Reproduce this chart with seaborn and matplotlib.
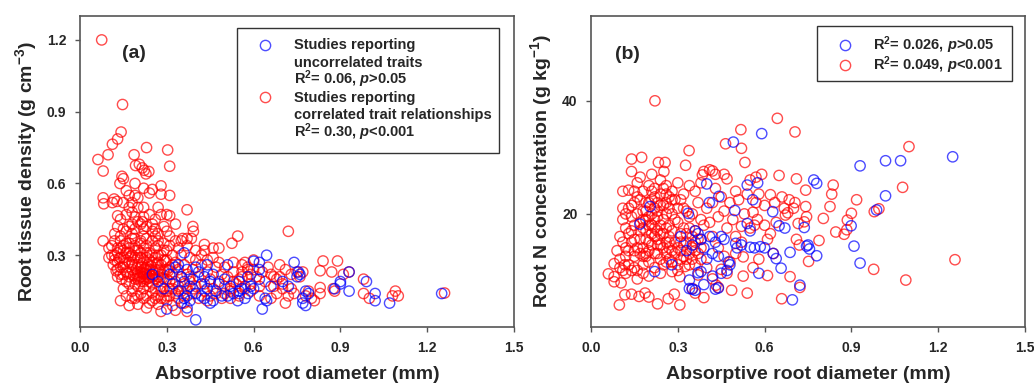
import matplotlib
matplotlib.use("Agg")
import matplotlib.pyplot as plt
from matplotlib.patches import Rectangle
import seaborn as sns
import pandas as pd

# (absorptive root diameter mm, root tissue density g cm-3)
rtd_uncorrelated = [
    (0.40, 0.03), (0.30, 0.075), (0.37, 0.08), (0.45, 0.10), (0.545, 0.11), (0.63, 0.075),
    (0.645, 0.30), (0.74, 0.27), (0.60, 0.275), (0.51, 0.26), (0.36, 0.31), (0.99, 0.19),
    (1.02, 0.14), (1.02, 0.11), (1.07, 0.10), (1.25, 0.14), (0.93, 0.15), (0.93, 0.23),
    (0.90, 0.19), (0.90, 0.18), (0.88, 0.16), (0.77, 0.10), (0.78, 0.09), (0.77, 0.12),
    (0.75, 0.21), (0.76, 0.22), (0.755, 0.23), (0.79, 0.14), (0.78, 0.15), (0.64, 0.12),
    (0.645, 0.11), (0.56, 0.16), (0.58, 0.14), (0.59, 0.17), (0.62, 0.27), (0.62, 0.24),
    (0.31, 0.22), (0.32, 0.18), (0.33, 0.25), (0.34, 0.15), (0.35, 0.21), (0.36, 0.12),
    (0.37, 0.24), (0.38, 0.17), (0.39, 0.20), (0.40, 0.14), (0.41, 0.23), (0.42, 0.18),
    (0.43, 0.21), (0.44, 0.16), (0.45, 0.19), (0.46, 0.22), (0.47, 0.15), (0.48, 0.18),
    (0.49, 0.13), (0.50, 0.20), (0.52, 0.17), (0.53, 0.14), (0.55, 0.19), (0.57, 0.12),
    (0.58, 0.21), (0.60, 0.16), (0.34, 0.26), (0.36, 0.19), (0.38, 0.11), (0.40, 0.25),
    (0.42, 0.13), (0.44, 0.26), (0.27, 0.19), (0.25, 0.22), (0.29, 0.16), (0.35, 0.10),
    (0.37, 0.13), (0.43, 0.12), (0.46, 0.11), (0.51, 0.13), (0.55, 0.15), (0.62, 0.20),
    (0.66, 0.17), (0.70, 0.19), (0.72, 0.17),
]

rtd_correlated = [
    (0.075, 1.20), (0.147, 0.93), (0.142, 0.815), (0.13, 0.786), (0.112, 0.764), (0.062, 0.70),
    (0.097, 0.72), (0.080, 0.652), (0.187, 0.72), (0.230, 0.75), (0.303, 0.74), (0.310, 0.672),
    (0.192, 0.675), (0.205, 0.68), (0.215, 0.665), (0.228, 0.64), (0.222, 0.655), (0.238, 0.65),
    (0.280, 0.59), (0.250, 0.575), (0.220, 0.58), (0.190, 0.60), (0.150, 0.62), (0.145, 0.63),
    (0.138, 0.60), (0.080, 0.54), (0.082, 0.515), (0.118, 0.535), (0.128, 0.525), (0.112, 0.52),
    (0.310, 0.55), (0.280, 0.555), (0.370, 0.49), (0.300, 0.47), (0.310, 0.465), (0.270, 0.50),
    (0.180, 0.52), (0.220, 0.50), (0.130, 0.465), (0.330, 0.43), (0.390, 0.42), (0.392, 0.40),
    (0.290, 0.42), (0.260, 0.41), (0.220, 0.41), (0.215, 0.44), (0.130, 0.42), (0.080, 0.36),
    (0.100, 0.33), (0.310, 0.38), (0.720, 0.40), (0.545, 0.38), (0.525, 0.35), (0.460, 0.33),
    (0.480, 0.33), (0.370, 0.37), (0.355, 0.37), (0.385, 0.37), (0.370, 0.34), (0.430, 0.345),
    (0.430, 0.32), (0.16, 0.57), (0.17, 0.55), (0.20, 0.54), (0.24, 0.56), (0.17, 0.50),
    (0.16, 0.47), (0.19, 0.46), (0.20, 0.44), (0.18, 0.43), (0.24, 0.47), (0.26, 0.45),
    (0.28, 0.47), (0.25, 0.43), (0.14, 0.38), (0.16, 0.40), (0.18, 0.39), (0.12, 0.39),
    (0.27, 0.39), (0.30, 0.40), (0.33, 0.36), (0.35, 0.36), (0.34, 0.33), (0.27, 0.36),
    (0.23, 0.37), (0.21, 0.36), (0.19, 0.37), (0.17, 0.35), (0.15, 0.34), (0.13, 0.33),
    (0.11, 0.30), (0.12, 0.28), (0.10, 0.29),
    (0.12, 0.30), (0.13, 0.27), (0.14, 0.25), (0.15, 0.29), (0.16, 0.31), (0.17, 0.27),
    (0.18, 0.24), (0.19, 0.29), (0.20, 0.26), (0.21, 0.23), (0.22, 0.28), (0.23, 0.25),
    (0.24, 0.22), (0.25, 0.27), (0.26, 0.24), (0.27, 0.21), (0.28, 0.26), (0.29, 0.23),
    (0.30, 0.20), (0.31, 0.25), (0.32, 0.22), (0.33, 0.19), (0.34, 0.24), (0.35, 0.21),
    (0.13, 0.21), (0.14, 0.33), (0.15, 0.22), (0.16, 0.19), (0.17, 0.33), (0.18, 0.30),
    (0.19, 0.20), (0.20, 0.32), (0.21, 0.29), (0.22, 0.19), (0.23, 0.31), (0.24, 0.28),
    (0.25, 0.18), (0.26, 0.33), (0.27, 0.30), (0.28, 0.17), (0.29, 0.32), (0.30, 0.28),
    (0.31, 0.16), (0.32, 0.30), (0.33, 0.27),
    (0.115, 0.26), (0.125, 0.235), (0.135, 0.285), (0.145, 0.20), (0.155, 0.265), (0.165, 0.225),
    (0.175, 0.295), (0.185, 0.215), (0.195, 0.245), (0.205, 0.205), (0.215, 0.265), (0.225, 0.225),
    (0.235, 0.205), (0.245, 0.255), (0.255, 0.215), (0.265, 0.265), (0.275, 0.235), (0.285, 0.205),
    (0.295, 0.275), (0.305, 0.235),
    (0.14, 0.36), (0.16, 0.35), (0.19, 0.34), (0.21, 0.35), (0.23, 0.34), (0.25, 0.36),
    (0.27, 0.34), (0.29, 0.35), (0.31, 0.34), (0.18, 0.37), (0.22, 0.38), (0.26, 0.38),
    (0.15, 0.16), (0.17, 0.18), (0.18, 0.15), (0.20, 0.17), (0.21, 0.14), (0.22, 0.16),
    (0.23, 0.13), (0.24, 0.17), (0.25, 0.145), (0.26, 0.16), (0.27, 0.13), (0.28, 0.15),
    (0.29, 0.12), (0.30, 0.15), (0.31, 0.13), (0.32, 0.16), (0.33, 0.14), (0.34, 0.12),
    (0.35, 0.15), (0.36, 0.13), (0.19, 0.12), (0.24, 0.10), (0.26, 0.12),
    (0.20, 0.23), (0.21, 0.21), (0.22, 0.24), (0.23, 0.22), (0.24, 0.24), (0.22, 0.21),
    (0.21, 0.25), (0.23, 0.235), (0.20, 0.215), (0.24, 0.205), (0.225, 0.245), (0.215, 0.225),
    (0.235, 0.26), (0.19, 0.225), (0.25, 0.235),
    (0.11, 0.34), (0.12, 0.36), (0.13, 0.31), (0.14, 0.29), (0.15, 0.32), (0.16, 0.28),
    (0.17, 0.31), (0.18, 0.27), (0.19, 0.32), (0.20, 0.29), (0.21, 0.31), (0.22, 0.33),
    (0.23, 0.29), (0.24, 0.31), (0.25, 0.30), (0.26, 0.29), (0.27, 0.27), (0.28, 0.30),
    (0.29, 0.28), (0.30, 0.32),
    (0.13, 0.24), (0.14, 0.22), (0.15, 0.25), (0.16, 0.23), (0.17, 0.21), (0.18, 0.26),
    (0.19, 0.18), (0.20, 0.20), (0.21, 0.19), (0.22, 0.22), (0.23, 0.20), (0.24, 0.19),
    (0.25, 0.21), (0.26, 0.20), (0.27, 0.24), (0.28, 0.22), (0.29, 0.20), (0.30, 0.24),
    (0.31, 0.19), (0.32, 0.26),
    (0.15, 0.41), (0.17, 0.42), (0.19, 0.41), (0.21, 0.43), (0.23, 0.42), (0.25, 0.40),
    (0.14, 0.45), (0.18, 0.48), (0.22, 0.46), (0.20, 0.50), (0.15, 0.52), (0.19, 0.55),
    (0.16, 0.13), (0.18, 0.12), (0.20, 0.13), (0.22, 0.12), (0.28, 0.12), (0.30, 0.13),
    (0.34, 0.17), (0.36, 0.18), (0.38, 0.21), (0.39, 0.16),
    (0.14, 0.11), (0.17, 0.09), (0.20, 0.095), (0.23, 0.08), (0.25, 0.11), (0.27, 0.095),
    (0.28, 0.065), (0.30, 0.11), (0.32, 0.09), (0.33, 0.07), (0.37, 0.065), (0.36, 0.10),
    (0.36, 0.26), (0.37, 0.22), (0.38, 0.19), (0.39, 0.24), (0.40, 0.17), (0.41, 0.21),
    (0.42, 0.26), (0.43, 0.18), (0.44, 0.23), (0.45, 0.20), (0.46, 0.16), (0.47, 0.25),
    (0.48, 0.19), (0.49, 0.22), (0.50, 0.17), (0.51, 0.21), (0.52, 0.15), (0.53, 0.23),
    (0.54, 0.18), (0.55, 0.14), (0.56, 0.21), (0.57, 0.17), (0.58, 0.24), (0.59, 0.15),
    (0.38, 0.29), (0.40, 0.28), (0.42, 0.30), (0.44, 0.28), (0.46, 0.29), (0.48, 0.27),
    (0.39, 0.14), (0.41, 0.12), (0.43, 0.15), (0.45, 0.13), (0.47, 0.14), (0.49, 0.12),
    (0.37, 0.16), (0.44, 0.11), (0.52, 0.12), (0.40, 0.32), (0.35, 0.30), (0.50, 0.25),
    (0.53, 0.27), (0.56, 0.26),
    (0.84, 0.276), (0.89, 0.276), (0.87, 0.23), (0.93, 0.23), (0.91, 0.22), (0.98, 0.20),
    (0.83, 0.235), (0.83, 0.165), (0.88, 0.15), (0.875, 0.16), (0.83, 0.14), (0.81, 0.11),
    (0.98, 0.14), (1.00, 0.12), (1.09, 0.15), (1.10, 0.13), (1.08, 0.13), (1.26, 0.142),
    (0.71, 0.10), (0.72, 0.13), (0.74, 0.14), (0.73, 0.16), (0.69, 0.21), (0.71, 0.24),
    (0.73, 0.22), (0.75, 0.23), (0.77, 0.23), (0.76, 0.21), (0.62, 0.17), (0.64, 0.19),
    (0.67, 0.17), (0.62, 0.13), (0.79, 0.15), (0.80, 0.12), (0.78, 0.13), (0.70, 0.18),
    (0.68, 0.20), (0.66, 0.22), (0.65, 0.25), (0.69, 0.26), (0.57, 0.27), (0.58, 0.25),
    (0.60, 0.24), (0.56, 0.23), (0.55, 0.20), (0.53, 0.19), (0.52, 0.16), (0.50, 0.14),
    (0.55, 0.13), (0.57, 0.16), (0.59, 0.18), (0.61, 0.21), (0.63, 0.23), (0.59, 0.22),
    (0.60, 0.28), (0.67, 0.21), (0.70, 0.16), (0.68, 0.14), (0.66, 0.12),
]

# (absorptive root diameter mm, root N concentration g kg-1)
n_uncorrelated = [
    (0.492, 32.7), (0.59, 34.2), (0.77, 26.0), (0.78, 25.4), (0.93, 28.5), (1.018, 29.4),
    (1.07, 29.4), (1.25, 30.1), (1.018, 23.2), (0.987, 20.7), (0.899, 17.9), (0.909, 14.3),
    (0.93, 11.3), (0.78, 12.6), (0.75, 14.5), (0.755, 13.8), (0.745, 14.3), (0.737, 17.6),
    (0.688, 13.2), (0.67, 17.5), (0.65, 17.9), (0.628, 20.4), (0.63, 13.0), (0.64, 12.1),
    (0.657, 10.4), (0.722, 7.4), (0.696, 4.8), (0.58, 9.5), (0.60, 14.0), (0.585, 14.2),
    (0.565, 14.0), (0.55, 14.1), (0.55, 17.0), (0.54, 18.3), (0.559, 22.5), (0.54, 25.1),
    (0.576, 25.5), (0.497, 20.6), (0.50, 14.8), (0.52, 14.5), (0.505, 14.0), (0.45, 9.5),
    (0.47, 10.0), (0.475, 11.5), (0.442, 23.1), (0.43, 6.7), (0.44, 6.9), (0.40, 25.3),
    (0.409, 22.0), (0.38, 9.8), (0.37, 9.6), (0.35, 6.7), (0.36, 6.5), (0.34, 6.8),
    (0.34, 8.3), (0.22, 9.8), (0.279, 11.0), (0.169, 18.2), (0.204, 21.3), (0.336, 20.1),
    (0.36, 17.0), (0.37, 16.5), (0.38, 15.5), (0.35, 14.5), (0.39, 14.0), (0.41, 16.0),
    (0.42, 13.0), (0.44, 12.5), (0.46, 15.5), (0.48, 11.0), (0.39, 7.5), (0.43, 15.0),
    (0.45, 16.0), (0.31, 16.0), (0.33, 13.5), (0.40, 12.0), (0.42, 9.0),
]

n_correlated = [
    (0.221, 40.0), (0.644, 36.9), (0.705, 34.5), (0.518, 34.9), (0.52, 31.6), (0.465, 32.4),
    (0.532, 29.1), (1.099, 31.9), (1.077, 24.7), (1.258, 11.9), (1.088, 8.3), (0.977, 10.2),
    (0.995, 20.9), (0.979, 20.4), (0.918, 22.5), (0.90, 20.1), (0.886, 18.9), (0.884, 17.2),
    (0.875, 16.4), (0.846, 16.8), (0.837, 25.1), (0.832, 23.5), (0.826, 21.3), (0.803, 19.2),
    (0.788, 15.3), (0.752, 11.6), (0.742, 24.2), (0.742, 21.3), (0.745, 19.5), (0.737, 18.6),
    (0.716, 18.3), (0.71, 26.2), (0.705, 22.0), (0.70, 21.0), (0.71, 15.5), (0.72, 14.5),
    (0.722, 7.0), (0.688, 8.9), (0.659, 5.0), (0.61, 9.1), (0.65, 26.8), (0.62, 23.4),
    (0.635, 22.0), (0.66, 23.0), (0.668, 21.0), (0.685, 22.5), (0.672, 19.8), (0.68, 20.2),
    (0.54, 6.0), (0.526, 9.0), (0.526, 12.4), (0.486, 6.5), (0.44, 7.0), (0.432, 7.4),
    (0.39, 5.2), (0.307, 3.9), (0.267, 5.0), (0.23, 4.1), (0.20, 5.3), (0.187, 6.0),
    (0.166, 5.4), (0.14, 5.8), (0.117, 5.7), (0.098, 3.9), (0.06, 9.4), (0.08, 11.2),
    (0.08, 8.9), (0.08, 8.0), (0.104, 7.8), (0.117, 11.0), (0.288, 5.8), (0.307, 8.9),
    (0.325, 10.7), (0.36, 6.0), (0.35, 6.8), (0.14, 29.7), (0.175, 30.0), (0.14, 27.5),
    (0.233, 29.1), (0.256, 29.1), (0.252, 27.5), (0.339, 31.2), (0.327, 28.6), (0.39, 27.5),
    (0.41, 27.8), (0.42, 27.6), (0.43, 27.0), (0.385, 26.9), (0.46, 27.0), (0.47, 26.2),
    (0.11, 24.0), (0.13, 24.2), (0.15, 24.0),
    (0.55, 26.0), (0.57, 26.5), (0.59, 27.0), (0.58, 23.5), (0.57, 22.0), (0.56, 20.3),
    (0.575, 19.0), (0.565, 18.0), (0.55, 17.5), (0.60, 18.0), (0.62, 16.5), (0.61, 15.5),
    (0.63, 13.0), (0.50, 24.0), (0.51, 22.5), (0.48, 22.0), (0.49, 19.0), (0.47, 17.5),
    (0.46, 20.5), (0.44, 19.5), (0.45, 23.0), (0.43, 24.5), (0.42, 22.0), (0.40, 21.0),
    (0.41, 18.5), (0.42, 16.0), (0.44, 14.0), (0.46, 12.5), (0.48, 11.5), (0.50, 13.0),
    (0.52, 15.0), (0.53, 20.0), (0.54, 23.5), (0.60, 21.5), (0.64, 18.5), (0.58, 12.0),
    (0.56, 10.5), (0.47, 9.5), (0.45, 10.2), (0.40, 10.5), (0.38, 12.0), (0.37, 9.2),
    (0.36, 11.0), (0.42, 8.5), (0.50, 16.0), (0.52, 17.8),
    (0.10, 16.0), (0.11, 19.0), (0.12, 14.0), (0.13, 21.0), (0.14, 17.0), (0.15, 12.5),
    (0.16, 23.0), (0.17, 15.5), (0.18, 20.5), (0.19, 13.0), (0.20, 18.0), (0.21, 22.5),
    (0.22, 16.0), (0.23, 19.5), (0.24, 14.5), (0.25, 21.5), (0.26, 17.5), (0.27, 12.0),
    (0.28, 20.0), (0.29, 15.0), (0.30, 18.5), (0.31, 13.5), (0.32, 21.0), (0.33, 16.5),
    (0.34, 19.5), (0.35, 14.0), (0.36, 17.0), (0.37, 22.0), (0.38, 15.5), (0.39, 18.0),
    (0.10, 12.0), (0.11, 15.0), (0.12, 20.0), (0.13, 11.0), (0.14, 19.5), (0.15, 15.5),
    (0.16, 10.0), (0.17, 18.5), (0.18, 14.0), (0.19, 22.0), (0.20, 11.5), (0.21, 16.5),
    (0.22, 21.0), (0.23, 13.0), (0.24, 18.0), (0.25, 11.0), (0.26, 23.5), (0.27, 16.0),
    (0.28, 13.5), (0.29, 19.0), (0.30, 11.0), (0.31, 16.5), (0.32, 14.5), (0.33, 12.0),
    (0.34, 17.5), (0.35, 20.0), (0.36, 13.5), (0.37, 15.5), (0.38, 19.0),
    (0.19, 17.0), (0.20, 19.5), (0.21, 18.0), (0.22, 17.5), (0.23, 20.5), (0.24, 16.5),
    (0.25, 19.0), (0.26, 15.0), (0.27, 18.0), (0.28, 17.0), (0.22, 19.0), (0.21, 20.0),
    (0.24, 21.5), (0.23, 17.0), (0.20, 15.0), (0.25, 16.5), (0.26, 20.0), (0.19, 19.0),
    (0.18, 17.5), (0.27, 21.0),
    (0.15, 22.0), (0.16, 25.5), (0.18, 24.0), (0.20, 25.0), (0.22, 24.5), (0.24, 26.0),
    (0.26, 25.0), (0.28, 24.0), (0.30, 25.5), (0.32, 23.5), (0.34, 25.0), (0.36, 24.0),
    (0.38, 25.5), (0.17, 26.5), (0.21, 27.0), (0.29, 22.5),
    (0.12, 9.5), (0.14, 10.0), (0.16, 8.5), (0.18, 11.0), (0.20, 9.0), (0.22, 10.5),
    (0.24, 9.5), (0.26, 11.5), (0.28, 9.8), (0.30, 10.0), (0.32, 12.5), (0.34, 11.0),
    (0.15, 13.5), (0.19, 12.5), (0.23, 14.5), (0.27, 14.0), (0.31, 15.0), (0.35, 16.0),
    (0.13, 16.5), (0.17, 13.0),
    (0.13, 13.5), (0.14, 15.0), (0.15, 18.0), (0.16, 14.0), (0.17, 17.0), (0.18, 12.5),
    (0.19, 15.5), (0.20, 13.5), (0.21, 14.5), (0.22, 13.0), (0.23, 15.5), (0.24, 12.0),
    (0.25, 14.0), (0.26, 13.0), (0.27, 15.0), (0.28, 11.5), (0.29, 13.0), (0.30, 14.0),
    (0.31, 12.0), (0.32, 17.5), (0.33, 15.0), (0.34, 13.0), (0.35, 12.0), (0.36, 15.0),
    (0.37, 13.0), (0.38, 14.0),
    (0.14, 21.5), (0.16, 20.0), (0.17, 22.5), (0.18, 19.0), (0.19, 20.5), (0.20, 22.0),
    (0.21, 24.0), (0.22, 23.0), (0.23, 22.0), (0.24, 23.5), (0.25, 24.5), (0.26, 22.0),
    (0.27, 23.0), (0.28, 22.5), (0.30, 21.0), (0.31, 22.5), (0.33, 20.5),
    (0.11, 10.0), (0.12, 12.5), (0.09, 13.5), (0.10, 10.5), (0.12, 17.5), (0.11, 21.0),
    (0.15, 10.5), (0.18, 9.5),
]

x_ticks = [0.0, 0.3, 0.6, 0.9, 1.2, 1.5]
rtd_ticks = [0.3, 0.6, 0.9, 1.2]
n_ticks = [20, 40]

# legend rows: (marker colour or None, text)
legend_a = [
    ("blue", "Studies reporting"), (None, "uncorrelated traits"), (None, "R$^{2}$= 0.06, $p$>0.05"),
    ("red", "Studies reporting"), (None, "correlated trait relationships"), (None, "R$^{2}$= 0.30, $p$<0.001"),
]
legend_b = [("blue", "R$^{2}$= 0.026, $p$>0.05"), ("red", "R$^{2}$= 0.049, $p$<0.001")]

sns.set_style("ticks")
plt.rcParams.update({
    "font.family": ["Liberation Sans", "DejaVu Sans"],
    "font.weight": "bold",
    "axes.labelweight": "bold",
    "mathtext.fontset": "custom",
    "mathtext.rm": "Liberation Sans:bold",
    "mathtext.bf": "Liberation Sans:bold",
    "mathtext.sf": "Liberation Sans:bold",
    "mathtext.it": "Liberation Sans:italic:bold",
    "mathtext.default": "it",
})

MARKER_S = 55
ALPHA = 0.7
LW = 1.0
FRAME = "#555555"


def frame(pairs, group):
    df = pd.DataFrame(pairs, columns=["diameter", "value"])
    df["group"] = group
    return df


def draw(ax, data_red, data_blue, ylabel, ylim, yticks, ytickfmt, tag, tagpos):
    for df, c in ((data_red, "red"), (data_blue, "blue")):
        sns.scatterplot(data=df, x="diameter", y="value", ax=ax, marker="o", s=MARKER_S,
                        facecolor="none", edgecolor=c, linewidth=LW, alpha=ALPHA, legend=False)
    ax.set_xlim(0, 1.5)
    ax.set_ylim(*ylim)
    ax.set_xticks(x_ticks)
    ax.set_xticklabels([f"{t:.1f}" for t in x_ticks])
    ax.set_yticks(yticks)
    ax.set_yticklabels([ytickfmt(t) for t in yticks])
    ax.tick_params(axis="both", direction="out", length=3.8, width=1.0, color=FRAME,
                   labelsize=10, pad=6)
    for lab in ax.get_xticklabels() + ax.get_yticklabels():
        lab.set_fontweight("bold")
    ax.set_xlabel("Absorptive root diameter (mm)", fontsize=14, fontweight="bold", labelpad=8)
    ax.set_ylabel(ylabel, fontsize=14, fontweight="bold", labelpad=6)
    for sp in ax.spines.values():
        sp.set_visible(True)
        sp.set_color(FRAME)
        sp.set_linewidth(1.2)
    ax.text(tagpos[0], tagpos[1], tag, transform=ax.transAxes, fontsize=14,
            fontweight="bold", ha="center", va="center")


def boxed_key(ax, rows, box, marker_x, text_x, first_base, step):
    """Framed key: one text row per entry, ring marker beside coloured rows (axes coords)."""
    x0, y0, x1, y1 = box
    ax.add_patch(Rectangle((x0, y0), x1 - x0, y1 - y0, transform=ax.transAxes,
                           facecolor="white", edgecolor="#333333", linewidth=1.0,
                           zorder=5, clip_on=False))
    for i, (c, txt) in enumerate(rows):
        base = first_base - i * step
        ax.text(text_x, base, txt, transform=ax.transAxes, fontsize=10.5,
                fontweight="bold", ha="left", va="baseline", zorder=6)
        if c is not None:
            ax.plot([marker_x], [base + 0.0145], transform=ax.transAxes, linestyle="none",
                    marker="o", markersize=7.4, markerfacecolor="none", markeredgecolor=c,
                    markeredgewidth=LW, alpha=ALPHA, zorder=6, clip_on=False)


fig = plt.figure(figsize=(10.34, 3.85), dpi=100)
ax1 = fig.add_axes([80 / 1034, 58 / 385, 434 / 1034, 311 / 385])
ax2 = fig.add_axes([591 / 1034, 58 / 385, 434 / 1034, 311 / 385])

draw(ax1, frame(rtd_correlated, "correlated"), frame(rtd_uncorrelated, "uncorrelated"),
     "Root tissue density (g cm$^{-3}$)", (0, 1.3), rtd_ticks, lambda t: f"{t:.1f}",
     "(a)", (0.124, 0.881))
draw(ax2, frame(n_correlated, "correlated"), frame(n_uncorrelated, "uncorrelated"),
     "Root N concentration (g kg$^{-1}$)", (0, 55), n_ticks, lambda t: f"{t:d}",
     "(b)", (0.085, 0.875))

# axes height is 311 px: baselines at 49.5 px then every 17.5 px (panel a), every 20 px (panel b)
boxed_key(ax1, legend_a, (0.3618, 0.5604, 0.9654, 0.9614), 0.4263, 0.4931,
          (327 - 49.5) / 311, 17.5 / 311)
boxed_key(ax2, legend_b, (0.5200, 0.7910, 0.9700, 0.9688), 0.5860, 0.6498,
          (327 - 49.5) / 311, 20.0 / 311)

fig.savefig("out.png", dpi=100)
